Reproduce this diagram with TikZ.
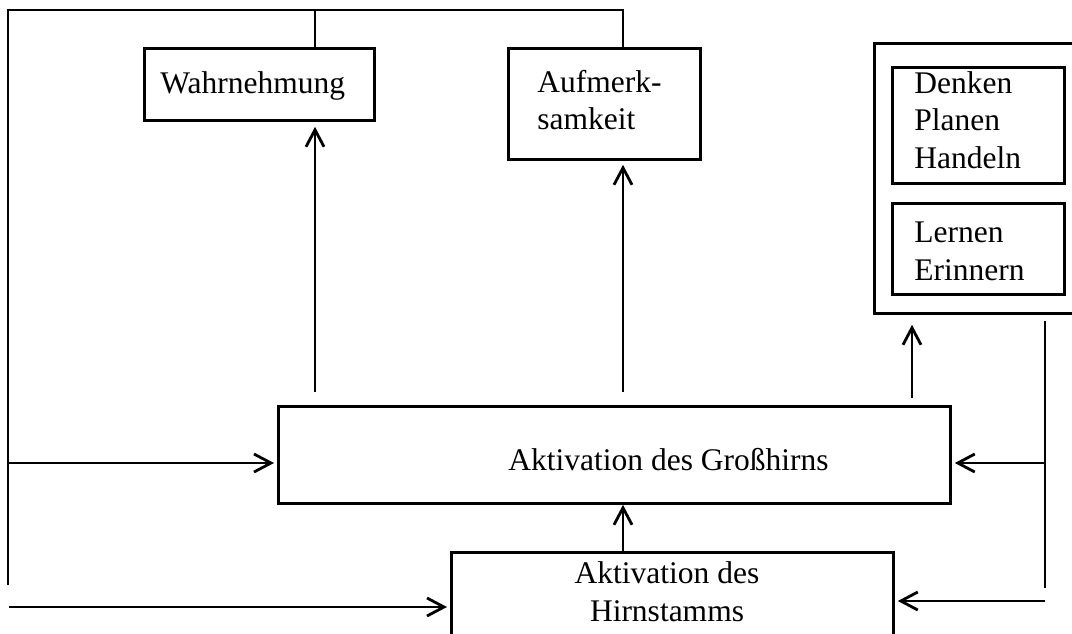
\documentclass[tikz,border=0pt]{standalone}
\usepackage{fontspec}
\setmainfont{Liberation Serif}
\usetikzlibrary{arrows.meta}
\begin{document}
\begin{tikzpicture}[x=1pt,y=-1pt,
  line width=2.8pt,
  box/.style={draw, rectangle, inner sep=0pt, anchor=north west},
  lbl/.style={font=\fontsize{31.5pt}{37.5pt}\selectfont, inner sep=0pt, align=left, anchor=base west},
  arr/.style={-{Straight Barb[length=17pt,width=18pt,line width=2.8pt]}},
]
\useasboundingbox (0,0) rectangle (1072,633);

% boxes
\node[box, minimum width=230pt, minimum height=72pt]  (wahr)  at (143,47) {};
\node[box, minimum width=192pt, minimum height=111pt] (aufm)  at (507,47) {};
\node[box, minimum width=209pt, minimum height=270pt] (group) at (873,42) {};
\node[box, minimum width=172pt, minimum height=116pt] (denk)  at (891,66) {};
\node[box, minimum width=172pt, minimum height=91pt]  (lern)  at (891,202) {};
\node[box, minimum width=672pt, minimum height=97pt]  (gross) at (277,405) {};
\node[box, minimum width=442pt, minimum height=120pt] (stamm) at (450,551) {};

% texts (multi-line nodes sit on the baseline of their last line)
\node[lbl] (wahrtxt)  at (159,93)    {Wahrnehmung};
\node[lbl] (aufmtxt)  at (536,129.5) {Aufmerk-\\samkeit};
\node[lbl] (denktxt)  at (913,168)   {Denken\\Planen\\Handeln};
\node[lbl] (lerntxt)  at (913,280)   {Lernen\\Erinnern};
\node[lbl] (grosstxt) at (507,470)   {Aktivation des Großhirns};
\node[lbl, align=center, anchor=base] (stammtxt) at (667,621) {Aktivation des\\Hirnstamms};

% helper coordinates
\coordinate (colW) at (315,0);
\coordinate (colA) at (623,0);
\coordinate (colD) at (912,0);
\coordinate (topy) at (0,10);
\coordinate (rowG) at (0,463);
\coordinate (lb) at (8,585);
\coordinate (rt) at (1045,321);
\coordinate (rb) at (1045,588);
\coordinate (sl) at (9,607);
\coordinate (sr) at (1045,601);

% feedback loop at the top and left
\draw (lb) -- (lb |- topy) -- (colA |- topy) -- (colA |- aufm.north);
\draw (colW |- topy) -- (colW |- wahr.north);
\draw (rt) -- (rb);

% upward arrows
\draw[arr, shorten <=13pt, shorten >=5pt] (colW |- gross.north) -- (colW |- wahr.south);
\draw[arr, shorten <=13pt, shorten >=4pt] (colA |- gross.north) -- (colA |- aufm.south);
\draw[arr, shorten <=7pt, shorten >=10pt] (colD |- gross.north) -- (colD |- group.south);
\draw[arr] (colA |- stamm.north) -- (colA |- gross.south);

% side arrows
\draw[arr, shorten >=3pt] (lb |- rowG) -- (rowG -| gross.west);
\draw[arr, shorten >=3pt] (rt |- rowG) -- (rowG -| gross.east);
\draw[arr, shorten >=3pt] (sl) -- (sl -| stamm.west);
\draw[arr, shorten >=3pt] (sr) -- (sr -| stamm.east);
\end{tikzpicture}
\end{document}
